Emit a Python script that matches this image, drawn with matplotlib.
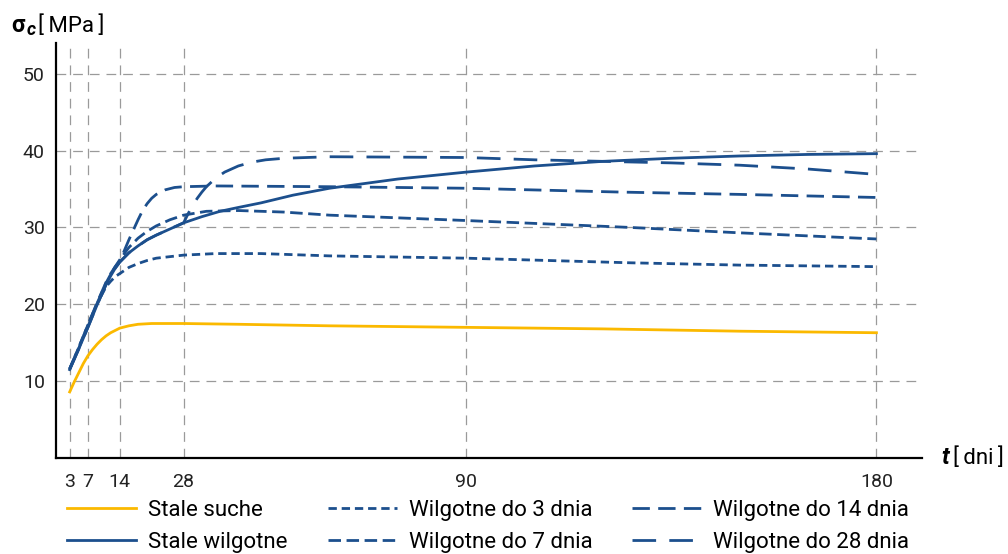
import matplotlib.pyplot as plt

plt.rcParams['font.family'] = ['Roboto', 'DejaVu Sans']
plt.rcParams['lines.scale_dashes'] = False

# dane: t [dni], sigma_c [MPa]
t_suche = [3, 4, 5, 6, 7, 8, 9, 10, 11, 12, 14, 16, 18, 21, 28, 40, 60, 90, 120, 150, 180]
s_suche = [8.6, 9.9, 11.1, 12.3, 13.3, 14.1, 14.8, 15.4, 15.9, 16.3, 16.9, 17.2, 17.4, 17.5, 17.5,
           17.4, 17.2, 17.0, 16.8, 16.5, 16.3]

t_wilg = [3, 5, 7, 9, 11, 12, 13, 14, 16, 18, 20, 22, 25, 28, 32, 36, 40, 45, 52, 60, 75, 90,
          105, 120, 135, 150, 165, 180]
s_wilg = [11.5, 14.2, 17.0, 19.9, 22.6, 23.7, 24.7, 25.5, 26.7, 27.6, 28.4, 29.0, 29.8, 30.6,
          31.4, 32.1, 32.6, 33.2, 34.2, 35.1, 36.3, 37.2, 38.0, 38.6, 39.0, 39.3, 39.5, 39.6]

t_do3 = [3, 5, 7, 9, 11, 12, 13, 14, 16, 18, 20, 22, 25, 28, 35, 45, 60, 90, 126, 150, 180]
s_do3 = [11.6, 14.4, 17.3, 20.1, 22.3, 23.0, 23.6, 24.0, 24.8, 25.3, 25.7, 26.0, 26.2, 26.4,
         26.6, 26.6, 26.3, 26.0, 25.4, 25.1, 24.9]

t_do7 = [3, 5, 7, 9, 11, 12, 13, 14, 16, 18, 20, 22, 25, 28, 33, 40, 50, 60, 90, 126, 150, 180]
s_do7 = [11.6, 14.3, 17.2, 20.1, 22.8, 23.9, 24.9, 25.8, 27.4, 28.6, 29.5, 30.2, 31.0, 31.6,
         32.1, 32.2, 32.0, 31.6, 30.9, 30.0, 29.3, 28.5]

t_do14 = [3, 5, 7, 9, 11, 12, 13, 14, 15, 16, 17, 18, 19, 20, 21, 22, 24, 26, 28, 35, 60, 90,
          124, 150, 180]
s_do14 = [11.6, 14.4, 17.3, 20.2, 22.9, 24.0, 24.9, 25.6, 27.0, 28.4, 29.7, 31.0, 32.2, 33.1,
          33.8, 34.3, 34.9, 35.2, 35.3, 35.4, 35.3, 35.1, 34.6, 34.3, 33.9]

t_do28 = [3, 5, 7, 9, 11, 12, 13, 14, 16, 18, 20, 22, 25, 28, 29, 30, 31, 32, 33, 35, 37, 40,
          43, 46, 50, 55, 60, 90, 105, 120, 135, 150, 165, 180]
s_do28 = [11.5, 14.2, 17.0, 19.9, 22.6, 23.7, 24.7, 25.5, 26.7, 27.6, 28.4, 29.0, 29.8, 30.6,
          31.8, 32.9, 33.8, 34.6, 35.3, 36.4, 37.2, 38.0, 38.5, 38.8, 39.0, 39.1, 39.2, 39.1, 38.8,
          38.6, 38.4, 38.1, 37.6, 36.9]

x_ticks = [3, 7, 14, 28, 90, 180]
y_ticks = [10, 20, 30, 40, 50]

yellow = '#fbb900'
blue = '#1c4f8d'

fig = plt.figure(figsize=(10.08, 5.54), dpi=100)
ax = fig.add_axes([56/1008, 1-458/554, (922-56)/1008, (458-43)/554])

lw = 2.0
ax.plot(t_suche, s_suche, color=yellow, lw=lw, label='Stale suche', zorder=3)
ax.plot(t_wilg, s_wilg, color=blue, lw=lw, label='Stale wilgotne', zorder=3)
ax.plot(t_do3, s_do3, color=blue, lw=lw, dashes=(6, 3.5), label='Wilgotne do 3 dnia', zorder=3)
ax.plot(t_do7, s_do7, color=blue, lw=lw, dashes=(9, 4), label='Wilgotne do 7 dnia', zorder=3)
ax.plot(t_do14, s_do14, color=blue, lw=lw, dashes=(12.5, 6), label='Wilgotne do 14 dnia', zorder=3)
ax.plot(t_do28, s_do28, color=blue, lw=lw, dashes=(17, 9.5), label='Wilgotne do 28 dnia', zorder=3)

ax.set_xlim(0, 190)
ax.set_ylim(0, 54)
ax.set_xticks(x_ticks)
ax.set_yticks(y_ticks)
ax.tick_params(length=0, labelsize=14, colors='#222222')
ax.tick_params(axis='x', pad=11)
ax.tick_params(axis='y', pad=8)
ax.grid(True, color='#9a9a9a', lw=0.9, dashes=(7, 5))
ax.set_axisbelow(True)
for s in ['top', 'right']:
    ax.spines[s].set_visible(False)
for s in ['left', 'bottom']:
    ax.spines[s].set_linewidth(1.6)
    ax.spines[s].set_color('black')

# opisy osi
fig.text(11/1008, 1-32/554, 'σ', fontsize=17, fontweight='bold', va='baseline')
fig.text(27/1008, 1-35/554, 'c', fontsize=13, fontweight='bold', style='italic', va='baseline')
fig.text(38/1008, 1-32/554, '[\u2009MPa\u2009]', fontsize=16, va='baseline')
fig.text(941/1008, 1-464/554, 't', fontsize=17, fontweight='bold', style='italic', va='baseline')
fig.text(953/1008, 1-464/554, '[\u2009dni\u2009]', fontsize=16, va='baseline')

# legenda: kolumny po dwa wpisy
h, l = ax.get_legend_handles_labels()
fig.legend(h, l, ncol=3, loc='upper left', bbox_to_anchor=(67/1008, 1-500/554),
           frameon=False, fontsize=16, handlelength=3.1, handletextpad=0.55,
           columnspacing=1.8, labelspacing=0.5, borderaxespad=0, borderpad=0)

fig.savefig('out.png', dpi=100)
